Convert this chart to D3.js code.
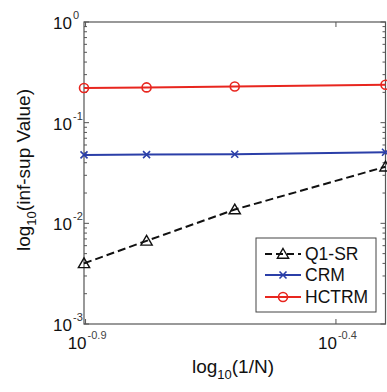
<!DOCTYPE html>
<html><head><meta charset="utf-8">
<script src="https://cdn.jsdelivr.net/npm/d3@7"></script>
<style>
html,body{margin:0;padding:0;background:#fff;}
text{font-family:"Liberation Sans",Arial,sans-serif;}
</style></head>
<body><svg id="c" width="387" height="392"></svg>
<script>
const N = [8, 6, 4, 2];
const q1sr = [0.0040, 0.0067, 0.0137, 0.0365];
const crm = [0.0478, 0.0482, 0.0485, 0.0508];
const hctrm = [0.221, 0.224, 0.229, 0.238];
const seriesNames = ["Q1-SR", "CRM", "HCTRM"];
const xTickExps = ["-0.9", "-0.4"];
const yTickExps = ["-3", "-2", "-1", "0"];

const svg = d3.select("#c");
const L = 84, R = 385.5, T = 22, B = 324;
const x = d3.scaleLog().domain([1/8, 1/2]).range([L, R]);
const y = d3.scaleLog().domain([1e-3, 1]).range([B, T]);
const axisCol = "#555";

// frame
svg.append("rect").attr("x", L).attr("y", T).attr("width", R - L).attr("height", B - T)
  .attr("fill", "none").attr("stroke", axisCol).attr("stroke-width", 1.2);

// y ticks (major + minor) inside on both sides
const yMinor = [];
for (let e = -3; e < 0; e++) for (let m = 1; m < 10; m++) yMinor.push(m * Math.pow(10, e));
yMinor.push(1);
yMinor.forEach(v => {
  const major = Math.abs(Math.log10(v) - Math.round(Math.log10(v))) < 1e-9;
  const len = major ? 5 : 3;
  svg.append("line").attr("x1", L).attr("x2", L + len).attr("y1", y(v)).attr("y2", y(v))
    .attr("stroke", axisCol).attr("stroke-width", 1);
  svg.append("line").attr("x1", R).attr("x2", R - len).attr("y1", y(v)).attr("y2", y(v))
    .attr("stroke", axisCol).attr("stroke-width", 1);
});
// y labels
yTickExps.forEach(e => {
  const v = Math.pow(10, +e);
  svg.append("text").attr("x", 72).attr("y", y(v) + 7).attr("text-anchor", "end")
    .attr("font-size", 17).attr("fill", "#111").text("10");
  svg.append("text").attr("x", 73).attr("y", y(v) - 3).attr("text-anchor", "start")
    .attr("font-size", 11).attr("fill", "#333").text(e);
});

// x ticks
xTickExps.forEach(e => {
  const v = Math.pow(10, +e);
  svg.append("line").attr("x1", x(v)).attr("x2", x(v)).attr("y1", B).attr("y2", B - 5)
    .attr("stroke", axisCol).attr("stroke-width", 1);
  svg.append("line").attr("x1", x(v)).attr("x2", x(v)).attr("y1", T).attr("y2", T + 5)
    .attr("stroke", axisCol).attr("stroke-width", 1);
  svg.append("text").attr("x", x(v) + 1).attr("y", 349).attr("text-anchor", "end")
    .attr("font-size", 17).attr("fill", "#111").text("10");
  svg.append("text").attr("x", x(v) + 2).attr("y", 339).attr("text-anchor", "start")
    .attr("font-size", 11).attr("fill", "#444").text(e);
});

// axis titles
const xt = svg.append("text").attr("x", 233).attr("y", 373).attr("text-anchor", "middle")
  .attr("font-size", 19).attr("fill", "#111");
xt.append("tspan").text("log");
xt.append("tspan").attr("dy", 6).attr("font-size", 13).text("10");
xt.append("tspan").attr("dy", -6).text("(1/N)");

const yt = svg.append("text").attr("transform", "translate(30,170) rotate(-90)")
  .attr("text-anchor", "middle").attr("font-size", 19).attr("fill", "#111");
yt.append("tspan").text("log");
yt.append("tspan").attr("dy", 6).attr("font-size", 13).text("10");
yt.append("tspan").attr("dy", -6).text("(inf-sup Value)");

// series
const xs = N.map(n => 1 / n);
const line = d3.line().x(d => x(d[0])).y(d => y(d[1]));
const series = [
  {name: seriesNames[0], vals: q1sr, color: "#111", dash: "8,4", marker: "tri"},
  {name: seriesNames[1], vals: crm, color: "#2b3fa8", dash: null, marker: "x"},
  {name: seriesNames[2], vals: hctrm, color: "#e8261f", dash: null, marker: "circ"}
];
const g = svg.append("g");
function marker(sel, type, cx, cy, color) {
  if (type === "tri") {
    sel.append("path").attr("d", d3.symbol().type(d3.symbolTriangle).size(55)())
      .attr("transform", `translate(${cx},${cy + 1})`).attr("fill", "none")
      .attr("stroke", color).attr("stroke-width", 1.4);
  } else if (type === "x") {
    const s = 3.5;
    sel.append("path").attr("d", `M${cx - s},${cy - s}L${cx + s},${cy + s}M${cx - s},${cy + s}L${cx + s},${cy - s}`)
      .attr("stroke", color).attr("stroke-width", 1.6);
  } else {
    sel.append("circle").attr("cx", cx).attr("cy", cy).attr("r", 4.5).attr("fill", "none")
      .attr("stroke", color).attr("stroke-width", 1.6);
  }
}
series.forEach(s => {
  const pts = xs.map((xv, i) => [xv, s.vals[i]]);
  g.append("path").attr("d", line(pts)).attr("fill", "none").attr("stroke", s.color)
    .attr("stroke-width", 2).attr("stroke-dasharray", s.dash);
  pts.forEach(p => marker(g, s.marker, x(p[0]), y(p[1]), s.color));
});

// legend
const lg = svg.append("g");
lg.append("rect").attr("x", 256).attr("y", 238).attr("width", 120).attr("height", 74)
  .attr("fill", "#fff").attr("stroke", "#444").attr("stroke-width", 1);
const ly = [254, 275, 297];
series.forEach((s, i) => {
  lg.append("line").attr("x1", 265).attr("x2", 301).attr("y1", ly[i]).attr("y2", ly[i])
    .attr("stroke", s.color).attr("stroke-width", 2).attr("stroke-dasharray", s.dash ? "7,4" : null);
  marker(lg, s.marker, 283, ly[i], s.color);
  lg.append("text").attr("x", 305).attr("y", ly[i] + 6).attr("font-size", 17.5).attr("fill", "#111").text(s.name);
});
</script></body></html>
